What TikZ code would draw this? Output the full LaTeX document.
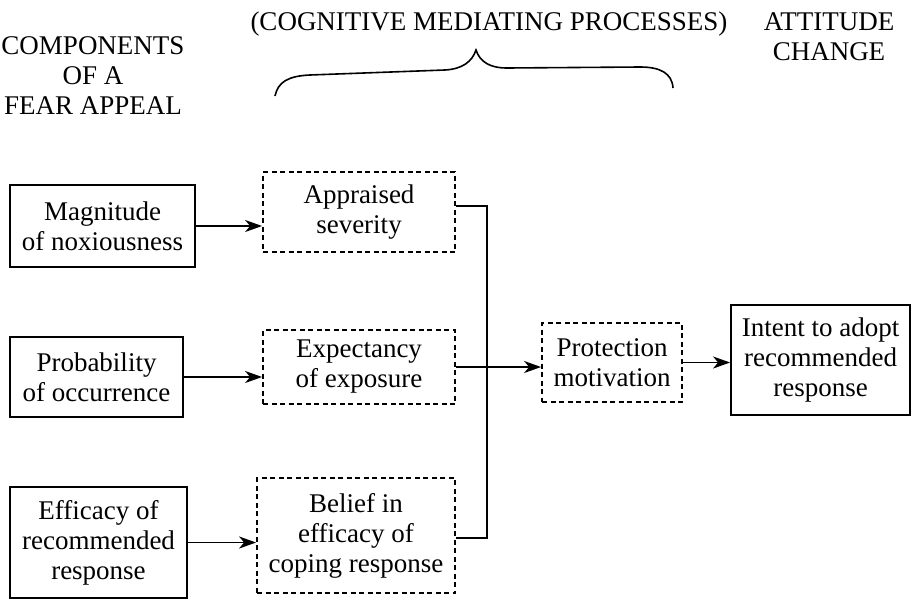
\documentclass[tikz,border=0pt]{standalone}
\usepackage{fontspec}
\setmainfont{Liberation Serif}
\usetikzlibrary{arrows.meta,positioning}
\begin{document}
\begin{tikzpicture}[x=1pt,y=-1pt,
  txt/.style={font=\fontsize{27}{30}\selectfont, align=center, inner sep=0pt},
  solidbox/.style={txt, draw, line width=1.8pt, minimum width=#1},
  dashbox/.style={txt, draw, line width=1.8pt, dash pattern=on 5pt off 3.5pt, minimum width=#1},
  arr/.style={line width=1.8pt, -{Stealth[length=17pt,width=12pt,inset=5pt]}},
  conn/.style={line width=1.8pt}]
\useasboundingbox (0,0) rectangle (912,600);
% headings
\node[txt] (h1) at (93,76) {COMPONENTS\\OF A\\FEAR APPEAL};
\node[txt] (h2) at (489,24) {(COGNITIVE MEDIATING PROCESSES)};
\node[txt] (h3) at (829,37) {ATTITUDE\\CHANGE};
% brace
\draw[line width=1.6pt] (275,96) .. controls (278,82) and (288,76) .. (310,75)
  -- (445,70) .. controls (462,69) and (472,62) .. (476,50)
  .. controls (480,62) and (490,68) .. (507,68)
  -- (640,67) .. controls (660,67) and (672,73) .. (673,88);
% left boxes
\node[solidbox=185pt, minimum height=82pt] (mag) at (102.5,226) {Magnitude\\of noxiousness};
\node[solidbox=173pt, minimum height=80pt] (prob) at (96.5,377) {Probability\\of occurrence};
\node[solidbox=177pt, minimum height=111pt] (eff) at (98.5,542.5) {Efficacy of\\recommended\\response};
% mediating boxes
\node[dashbox=192pt, minimum height=80pt] (app) at (359,212) {Appraised\\severity};
\node[dashbox=192pt, minimum height=74pt] (exp) at (359,367) {Expectancy\\of exposure};
\node[dashbox=198pt, minimum height=115pt] (bel) at (356,535.5) {Belief in\\efficacy of\\coping response};
\node[dashbox=140pt, minimum height=79pt] (prot) at (612,362.5) {Protection\\motivation};
% outcome
\node[solidbox=179pt, minimum height=110pt] (int) at (820.5,360) {Intent to adopt\\recommended\\response};
% connectors
\draw[arr] (mag.east) -- (mag.east -| app.west);
\draw[arr] (prob.east) -- (prob.east -| exp.west);
\draw[arr] (eff.east) -- (eff.east -| bel.west);
\coordinate (jt) at (487,206);
\coordinate (jb) at (487,538);
\draw[conn] (jt -| app.east) -- (jt) -- (jb) -- (jb -| bel.east);
\draw[arr] (exp.east) -- (exp.east -| prot.west);
\draw[arr] (prot.east) -- (prot.east -| int.west);
\end{tikzpicture}
\end{document}
